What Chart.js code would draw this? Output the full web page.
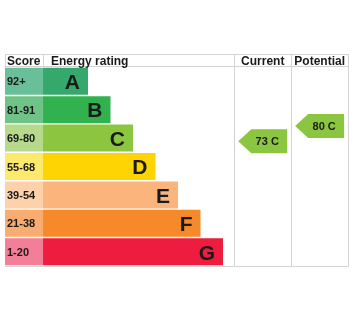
<!DOCTYPE html>
<html>
<head>
<meta charset="utf-8">
<script src="https://cdn.jsdelivr.net/npm/chart.js@4.4.1/dist/chart.umd.min.js"></script>
<style>
  html, body { margin: 0; padding: 0; background: #fff; }
  #wrap { width: 353px; height: 324px; }
</style>
</head>
<body>
<div id="wrap"><canvas id="epc"></canvas></div>
<script>
// EPC bands, top (best) to bottom
var bands = ['A', 'B', 'C', 'D', 'E', 'F', 'G'];
var scoreLabels = ['92+', '81-91', '69-80', '55-68', '39-54', '21-38', '1-20'];
var bandMin = [92, 81, 69, 55, 39, 21, 1];
var bandMax = [100, 91, 80, 68, 54, 38, 20];
var barLengths = [2, 3, 4, 5, 6, 7, 8];
var currentScore = 73, currentBand = 'C';
var potentialScore = 80, potentialBand = 'C';

var barColors = ['#35a86c', '#31b24f', '#8cc540', '#fed502', '#fbb47c', '#f68a2a', '#ee1d40'];
var scoreColors = ['#68bf98', '#6fc387', '#b6d98b', '#fde96c', '#fdd1aa', '#f8ac6f', '#f27f97'];

var X_MIN = -1.69, X_MAX = 13.6;
var currentCol = [8.5, 11.03];
var potentialCol = [11.03, 13.56];
var lineColor = '#d4d4d4';
var fontFam = '"Liberation Sans", Arial, sans-serif';

function vline(ctx, x, y1, y2) {
  ctx.beginPath();
  ctx.moveTo(Math.round(x) + 0.5, y1);
  ctx.lineTo(Math.round(x) + 0.5, y2);
  ctx.stroke();
}
function hline(ctx, x1, x2, y) {
  ctx.beginPath();
  ctx.moveTo(x1, Math.round(y) + 0.5);
  ctx.lineTo(x2, Math.round(y) + 0.5);
  ctx.stroke();
}

function scoreToPixel(chart, score) {
  var y = chart.scales.y;
  var i = 0;
  while (i < bands.length - 1 && score < bandMin[i]) i++;
  var band = (chart.chartArea.bottom - chart.chartArea.top) / bands.length;
  var top = y.getPixelForValue(i) - band / 2;
  var frac = (bandMax[i] + 1 - score) / (bandMax[i] - bandMin[i] + 2);
  return top + frac * band;
}

function drawArrow(ctx, chart, col, score, band) {
  var x = chart.scales.x;
  var left = x.getPixelForValue(col[0]) + 4;
  var right = x.getPixelForValue(col[1]) - 4;
  var cy = scoreToPixel(chart, score);
  var h = 24, tip = 13;
  ctx.fillStyle = barColors[bands.indexOf(band)];
  ctx.beginPath();
  ctx.moveTo(left, cy);
  ctx.lineTo(left + tip, cy - h / 2);
  ctx.lineTo(right, cy - h / 2);
  ctx.lineTo(right, cy + h / 2);
  ctx.lineTo(left + tip, cy + h / 2);
  ctx.closePath();
  ctx.fill();
  ctx.fillStyle = '#1a1a1a';
  ctx.font = 'bold 11px ' + fontFam;
  ctx.textAlign = 'center';
  ctx.textBaseline = 'middle';
  ctx.fillText(score + ' ' + band, (left + tip + right) / 2 - 2, cy + 1);
}

var epcPlugin = {
  id: 'epc',
  beforeDatasetsDraw: function(chart) {
    var ctx = chart.ctx, a = chart.chartArea, x = chart.scales.x;
    var headTop = 54;
    ctx.save();
    ctx.strokeStyle = lineColor;
    ctx.lineWidth = 1;
    hline(ctx, a.left, a.right, headTop);
    hline(ctx, a.left, a.right, a.top - 1);
    hline(ctx, a.left, a.right, a.bottom);
    vline(ctx, a.left, headTop, a.top);
    vline(ctx, x.getPixelForValue(0), headTop, a.top);
    vline(ctx, x.getPixelForValue(currentCol[0]), headTop, a.bottom + 1);
    vline(ctx, x.getPixelForValue(potentialCol[0]), headTop, a.bottom + 1);
    vline(ctx, x.getPixelForValue(potentialCol[1]), headTop, a.bottom + 1);

    ctx.fillStyle = '#1a1a1a';
    ctx.font = 'bold 12px ' + fontFam;
    ctx.textBaseline = 'middle';
    var hy = (headTop + a.top) / 2 + 1;
    ctx.textAlign = 'left';
    ctx.fillText('Score', a.left + 2, hy);
    ctx.fillText('Energy rating', x.getPixelForValue(0) + 8, hy);
    ctx.textAlign = 'center';
    ctx.fillText('Current', (x.getPixelForValue(currentCol[0]) + x.getPixelForValue(currentCol[1])) / 2, hy);
    ctx.fillText('Potential', (x.getPixelForValue(potentialCol[0]) + x.getPixelForValue(potentialCol[1])) / 2, hy);
    ctx.restore();
  },
  afterDatasetsDraw: function(chart) {
    var ctx = chart.ctx, a = chart.chartArea, x = chart.scales.x, y = chart.scales.y;
    ctx.save();
    ctx.fillStyle = '#1a1a1a';
    ctx.textBaseline = 'middle';
    bands.forEach(function(b, i) {
      var cy = y.getPixelForValue(i);
      ctx.font = 'bold 11px ' + fontFam;
      ctx.textAlign = 'left';
      ctx.fillText(scoreLabels[i], a.left + 2, cy + 1);
      ctx.font = 'bold 21px ' + fontFam;
      ctx.textAlign = 'right';
      ctx.fillText(b, x.getPixelForValue(barLengths[i]) - 8, cy + 2);
    });
    drawArrow(ctx, chart, currentCol, currentScore, currentBand);
    drawArrow(ctx, chart, potentialCol, potentialScore, potentialBand);
    ctx.restore();
  }
};

new Chart(document.getElementById('epc'), {
  type: 'bar',
  data: {
    labels: bands,
    datasets: [
      {
        label: 'Score',
        data: bands.map(function() { return [X_MIN, 0]; }),
        backgroundColor: scoreColors,
        grouped: false,
        barPercentage: 0.95,
        categoryPercentage: 1
      },
      {
        label: 'Energy rating',
        data: barLengths.map(function(l) { return [0, l]; }),
        backgroundColor: barColors,
        grouped: false,
        barPercentage: 0.95,
        categoryPercentage: 1
      }
    ]
  },
  options: {
    indexAxis: 'y',
    responsive: true,
    maintainAspectRatio: false,
    animation: false,
    layout: { padding: { left: 5, right: 4, top: 67, bottom: 58 } },
    plugins: { legend: { display: false }, tooltip: { enabled: false } },
    scales: {
      x: { type: 'linear', min: X_MIN, max: X_MAX, display: false },
      y: { display: false }
    }
  },
  plugins: [epcPlugin]
});
</script>
</body>
</html>
